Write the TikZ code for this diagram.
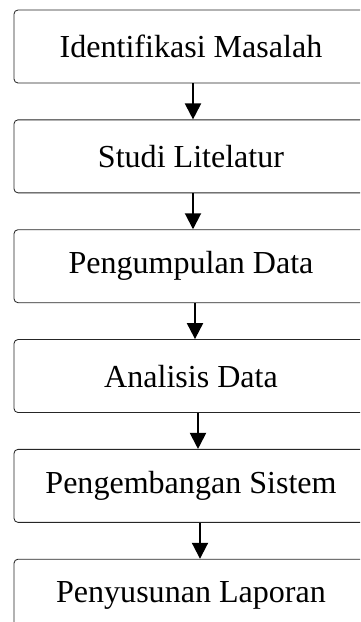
\documentclass[tikz,border=0pt]{standalone}
\usepackage{fontspec}
\setmainfont{Liberation Serif}
\usetikzlibrary{positioning,arrows.meta}
\tikzset{
  stepbox/.style={draw=black!85, line width=0.6pt, rounded corners=1mm, align=center,
    minimum width=8.85cm, minimum height=1.825cm, inner sep=2pt,
    font=\fontsize{22.8}{27}\selectfont},
  steparrow/.style={-{Triangle[length=4mm, width=4mm]}, line width=1.4pt},
}

\begin{document}
\begin{tikzpicture}[node distance=0.9cm]
  \useasboundingbox (0,0) rectangle (9,-15.55);
  \clip (0,0) rectangle (9,-15.55);
  \node[stepbox] (ident) at (4.775,-1.1625) {Identifikasi Masalah};
  \node[stepbox, below=of ident] (studi) {Studi Litelatur};
  \node[stepbox, below=of studi] (kumpul) {Pengumpulan Data};
  \node[stepbox, below=of kumpul] (analisis) {Analisis Data};
  \node[stepbox, below=of analisis] (kembang) {Pengembangan Sistem};
  \node[stepbox, below=of kembang] (susun) {Penyusunan Laporan};
  % arrows drift a little to the right going down
  \foreach \from/\to/\dx in {ident/studi/0.05, studi/kumpul/0.05, kumpul/analisis/0.1,
      analisis/kembang/0.175, kembang/susun/0.225}
    \draw[steparrow] ([xshift=\dx cm]\from.south) -- ([xshift=\dx cm]\to.north);
\end{tikzpicture}
\end{document}
